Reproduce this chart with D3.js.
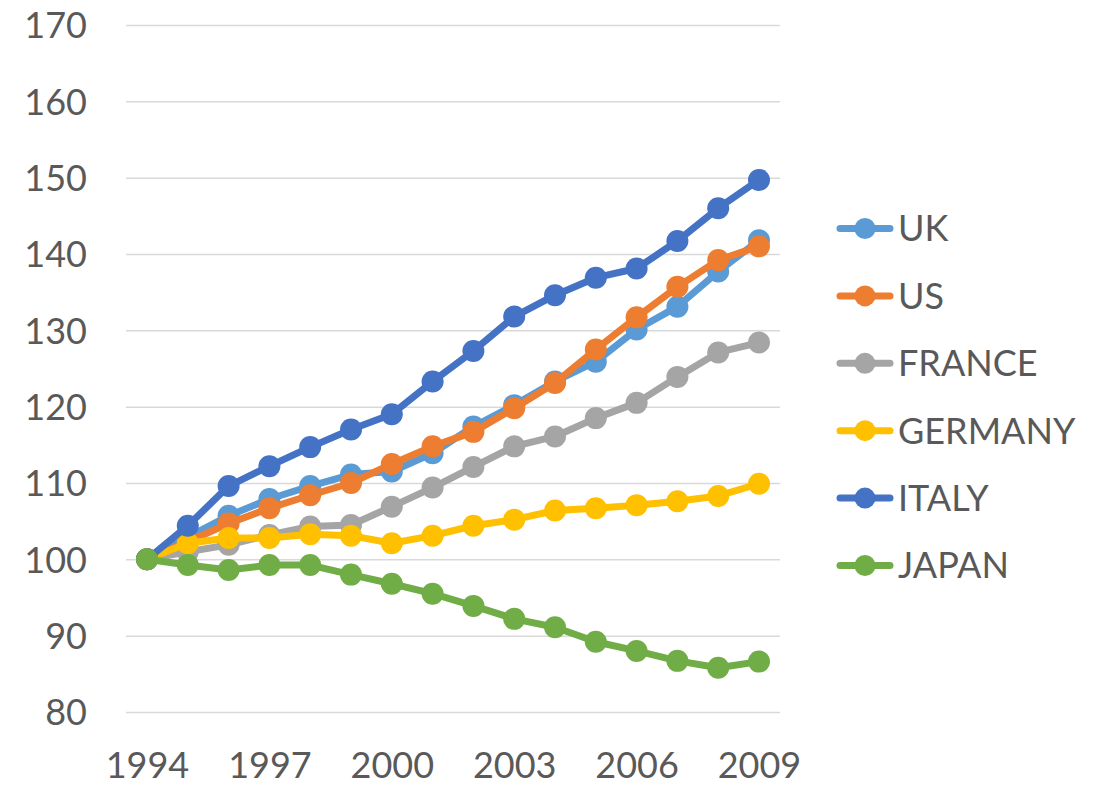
<!DOCTYPE html>
<html>
<head>
<meta charset="utf-8">
<script src="https://cdn.jsdelivr.net/npm/d3@7/dist/d3.min.js"></script>
<style>
  html, body { margin: 0; padding: 0; background: #fff; }
  svg text { font-family: Lato, "Open Sans", sans-serif; fill: #595959; }
</style>
</head>
<body>
<svg id="chart" width="1101" height="785"></svg>
<script>
// Index values (1994 = 100) by country
const years = d3.range(1994, 2010);
const yearTicks = [1994, 1997, 2000, 2003, 2006, 2009];
const valueTicks = [80, 90, 100, 110, 120, 130, 140, 150, 160, 170];

const seriesNames = ["UK", "US", "FRANCE", "GERMANY", "ITALY", "JAPAN"];
const seriesColors = ["#5B9BD5", "#ED7D31", "#A5A5A5", "#FFC000", "#4472C4", "#70AD47"];

const uk      = [100, 102.9, 105.7, 107.9, 109.6, 111.1, 111.5, 113.9, 117.4, 120.2, 123.3, 125.9, 130.1, 133.1, 137.7, 141.8];
const us      = [100, 102.3, 104.7, 106.7, 108.4, 110.0, 112.5, 114.8, 116.7, 119.8, 123.1, 127.5, 131.7, 135.7, 139.2, 141.0];
const france  = [100, 101.0, 101.9, 103.2, 104.3, 104.5, 106.9, 109.4, 112.1, 114.8, 116.1, 118.5, 120.5, 123.9, 127.1, 128.4];
const germany = [100, 102.1, 102.8, 102.8, 103.3, 103.1, 102.1, 103.1, 104.4, 105.2, 106.4, 106.7, 107.1, 107.6, 108.3, 109.9];
const italy   = [100, 104.4, 109.6, 112.2, 114.7, 117.0, 119.0, 123.3, 127.3, 131.8, 134.6, 136.9, 138.1, 141.7, 146.0, 149.7];
const japan   = [100, 99.25, 98.6, 99.25, 99.25, 98.0, 96.8, 95.5, 93.9, 92.2, 91.1, 89.2, 88.0, 86.7, 85.8, 86.6];

const seriesValues = [uk, us, france, germany, italy, japan];

const svg = d3.select("#chart");

const x = d3.scaleLinear().domain([1994, 2009]).range([147, 759]);
const y = d3.scaleLinear().domain([80, 170]).range([712, 25]);
const gridLeft = 126, gridRight = 780;

// Horizontal gridlines + value labels
const yAxis = d3.axisLeft(y).tickValues(valueTicks).tickSize(-(gridRight - gridLeft)).tickPadding(39);
const gy = svg.append("g").attr("transform", `translate(${gridLeft},0)`).call(yAxis);
gy.select(".domain").remove();
gy.selectAll(".tick line").attr("stroke", "#d9d9d9").attr("stroke-width", 1.5);
gy.selectAll(".tick text")
  .attr("font-size", 36).attr("dy", "0.36em").attr("fill", "#595959")
  .style("font-family", "Lato, 'Open Sans', sans-serif");

// Year labels
const xAxis = d3.axisBottom(x).tickValues(yearTicks).tickFormat(d3.format("d")).tickSize(0).tickPadding(0);
const gx = svg.append("g").attr("transform", "translate(0,778)").call(xAxis);
gx.select(".domain").remove();
gx.selectAll(".tick text")
  .attr("font-size", 36).attr("dy", 0).attr("y", 0).attr("fill", "#595959")
  .style("font-family", "Lato, 'Open Sans', sans-serif");

// Lines with markers, drawn in series order
const line = d3.line().x((d, i) => x(years[i])).y(d => y(d));

seriesValues.forEach((vals, s) => {
  const g = svg.append("g");
  g.append("path")
    .datum(vals)
    .attr("d", line)
    .attr("fill", "none")
    .attr("stroke", seriesColors[s])
    .attr("stroke-width", 7)
    .attr("stroke-linejoin", "round")
    .attr("stroke-linecap", "round");
  g.selectAll("circle")
    .data(vals)
    .join("circle")
    .attr("cx", (d, i) => x(years[i]))
    .attr("cy", d => y(d))
    .attr("r", 11)
    .attr("fill", seriesColors[s]);
});

// Legend
const legendY = d3.scaleLinear().domain([0, 5]).range([228.5, 565.5]);
const legend = svg.append("g");
seriesNames.forEach((name, s) => {
  const ly = legendY(s);
  legend.append("line")
    .attr("x1", 840).attr("x2", 890).attr("y1", ly).attr("y2", ly)
    .attr("stroke", seriesColors[s]).attr("stroke-width", 7).attr("stroke-linecap", "round");
  legend.append("circle").attr("cx", 865).attr("cy", ly).attr("r", 10.5).attr("fill", seriesColors[s]);
  legend.append("text")
    .attr("x", 898).attr("y", ly).attr("dy", "0.36em")
    .attr("font-size", 36)
    .text(name);
});
</script>
</body>
</html>
